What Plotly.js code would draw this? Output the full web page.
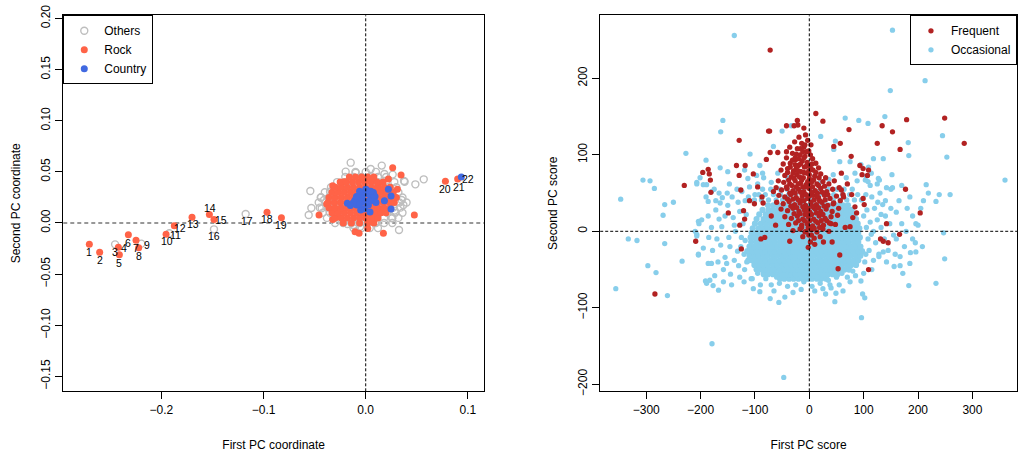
<!DOCTYPE html>
<html>
<head>
<meta charset="utf-8">
<script src="https://cdn.plot.ly/plotly-3.0.1.min.js"></script>
<style>
  body { margin: 0; background: #fff; }
  #chart { width: 1019px; height: 453px; }
</style>
</head>
<body>
<div id="chart"></div>
<script>
// ---------- left panel: genre PC coordinates ----------
var tailLabels = ['1','2','3','4','5','6','7','8','9','10','11','12','13','14','15','16','17','18','19','20','21','22'];
var tailX = [-0.2705,-0.2604,-0.2453,-0.2421,-0.2411,-0.2323,-0.2248,-0.2222,-0.2196,-0.1954,-0.1922,
             -0.1873,-0.170,-0.1530,-0.1485,-0.1485,-0.1175,-0.0966,-0.0825,0.0780,0.0900,0.0936];
var tailY = [-0.0209,-0.0287,-0.0209,-0.0238,-0.0310,-0.0114,-0.0170,-0.0241,-0.0202,-0.0111,-0.0101,
             -0.0026,0.0055,0.0082,0.0033,-0.0062,0.0088,0.0104,0.0052,0.0408,0.0430,0.0450];
var tailGenre = ['Rock','Rock','Others','Rock','Rock','Rock','Rock','Rock','Others','Rock','Others',
                 'Rock','Rock','Rock','Rock','Others','Others','Rock','Rock','Rock','Rock','Country'];

var othersOuter = [[-0.0147,0.059],[0.0049,0.0528],[0.0157,0.0561],[-0.0196,0.0502],[-0.0098,0.0492],
  [-0.0542,0.0313],[-0.0532,0.0147],[-0.0558,0.0078],[-0.0437,0.0251],[0.0375,0.0411],[0.0486,0.0378],
  [0.0568,0.0427],[0.0369,0.0176],[0.0326,-0.0068],[0.0258,0.0046],[0.0284,0.0121],[0.0352,0.0225],
  [-0.0179,-0.001],[0.0108,0.001],[0.0183,0.0479],[0.0264,0.0473],[-0.0349,0.0306],[-0.0408,0.0225],
  [-0.0431,0.0143],[-0.0316,0.0046],[-0.0055,-0.0036],[-0.012,-0.002],[0.0381,0.0404]];
var othersCore = [
  [-0.005, [-0.012,-0.004,0.004,0.012]],
  [0.000, [-0.030,-0.022,-0.014,-0.006,0.002,0.010,0.018,0.026]],
  [0.005, [-0.038,-0.030,-0.022,-0.014,-0.006,0.002,0.010,0.018,0.026,0.032]],
  [0.010, [-0.042,-0.035,-0.027,-0.019,-0.011,-0.003,0.005,0.013,0.021,0.029,0.036]],
  [0.015, [-0.045,-0.037,-0.029,-0.021,-0.013,-0.005,0.003,0.011,0.019,0.027,0.034]],
  [0.020, [-0.046,-0.039,-0.031,-0.023,-0.015,-0.007,0.001,0.009,0.017,0.025,0.033,0.040]],
  [0.025, [-0.044,-0.036,-0.028,-0.020,-0.012,-0.004,0.004,0.012,0.020,0.028,0.036]],
  [0.030, [-0.040,-0.032,-0.024,-0.016,-0.008,0.000,0.008,0.016,0.024,0.032]],
  [0.035, [-0.034,-0.026,-0.018,-0.010,-0.002,0.006,0.014,0.022,0.030]],
  [0.040, [-0.028,-0.020,-0.012,-0.004,0.004,0.012,0.020,0.028]],
  [0.045, [-0.020,-0.012,-0.004,0.004,0.012,0.020]],
  [0.050, [-0.010,0.000,0.010]]
];
var rockOuter = [[0.0264,0.0541],[0.0346,0.0470],[-0.0212,0.0404],[-0.0323,0.0365],[-0.0457,0.0078],
  [-0.0382,0.0186],[-0.0323,0.0033],[-0.0104,-0.0085],[-0.0065,-0.0101],[0.0020,-0.0055],[0.0173,-0.0101],
  [0.0476,0.0078],[0.031,0.0329],[0.0222,0.043],[0.0124,0.0388]];
var rockCore = [
  [0.000, [-0.022,-0.014,-0.006,0.002,0.008]],
  [0.005, [-0.030,-0.024,-0.018,-0.012,-0.006,0.000,0.006,0.012]],
  [0.010, [-0.033,-0.027,-0.021,-0.015,-0.009,-0.003,0.003,0.009,0.015,0.020]],
  [0.015, [-0.036,-0.030,-0.024,-0.018,-0.012,-0.006,0.000,0.006,0.012,0.018,0.024]],
  [0.020, [-0.037,-0.031,-0.025,-0.019,-0.013,-0.007,-0.001,0.005,0.011,0.017,0.023,0.028]],
  [0.025, [-0.036,-0.030,-0.024,-0.018,-0.012,-0.006,0.000,0.006,0.012,0.018,0.024,0.030]],
  [0.030, [-0.033,-0.027,-0.021,-0.015,-0.009,-0.003,0.003,0.009,0.015,0.021,0.027]],
  [0.035, [-0.030,-0.024,-0.018,-0.012,-0.006,0.000,0.006,0.012,0.018,0.024]],
  [0.040, [-0.025,-0.019,-0.013,-0.007,-0.001,0.005,0.011,0.017]],
  [0.045, [-0.016,-0.010,-0.004,0.002,0.008]]
];
var countryPts = [[0.0222,0.0329],[0.0248,0.0264],[0.0183,0.0218],[0.0248,0.0137],[0.0042,0.0108],
  [-0.0049,0.0127],[-0.0179,0.0192],[-0.0114,0.0192],[-0.0072,0.0258],[-0.0023,0.029],[0.001,0.0323],
  [0.0075,0.0297],[0.0059,0.0258],[-0.0055,0.0225],[-0.0007,0.0209],[-0.0088,0.0176],[0.0026,0.0176],
  [-0.0039,0.0241],[-0.0104,0.0225],[0.0091,0.0258],[0.0042,0.0225],[-0.012,0.020],[-0.006,0.018],
  [0.000,0.020],[0.006,0.022],[-0.009,0.026],[-0.003,0.027],[0.003,0.028],[0.008,0.027],[-0.006,0.031],
  [0.000,0.033],[0.005,0.031],[-0.015,0.017],[0.010,0.020],[-0.001,0.014]];

// ---------- right panel: listener PC scores ----------
var occOuter = [[-138,256],[153,263],[213,197],[149,184],[66,148],[91,145],[108,141],[139,150],[-159,145],
  [-163,130],[-227,102],[-109,101],[-190,93],[-306,67],[-293,66],[-285,56],[-347,42],[-266,35],[-250,38],
  [-269,21],[-333,-10],[-317,-12],[-266,-16],[-297,-45],[-282,-54],[-356,-75],[-261,-84],[-234,-39],
  [-179,-147],[-47,-191],[-56,-93],[47,-92],[96,-113],[102,-87],[98,-82],[183,-71],[233,-68],[249,-36],
  [247,-2],[360,67],[253,97],[245,125],[259,48],[239,48],[233,39],[215,61],[219,50],[183,99],[182,116],
  [152,74],[142,57],[129,67],[153,57],[196,10],[196,-27],[190,-10],[185,-42],[167,-45],[167,-33],
  [156,-46],[128,-33],[136,-27],[52,-40],[49,-81],[38,-70],[-103,-75],[-91,-79],[-107,-62],[-167,-77],
  [-177,-71],[-191,-65],[-189,-68],[-174,-58],[-186,-42],[-204,-30],[-207,-6],[-210,0],[-198,15],
  [-203,10],[-207,64],[-189,61],[-186,39],[-164,37],[-166,50],[-164,83],[-150,78],[-119,80],[-113,69],
  [-97,73],[-91,86],[-86,76],[-66,111],[-50,131],[-33,138],[21,124],[48,118],[45,107],[56,91],[44,74],
  [75,91],[95,87],[109,84],[114,76],[103,67],[84,76],[118,95],[136,95],[127,69]];
var occRing = [[-120,-30],[-125,-8],[-122,10],[-128,26],[-118,40],[-130,-45],[-136,0],[-140,18],
  [-146,-20],[-150,34],[-155,-34],[-161,6],[-142,45],[-133,55],[-151,50],[-166,16],[-170,-10],[-158,-50],
  [-145,-56],[-128,-60],[-138,-38],[-119,-50],[-124,52],[-112,45],[-110,58],[-100,48],[-95,62],[-148,-8],
  [-172,28],[-160,44],[-178,-25],[-120,-66],[-105,-62],[-116,22],[-126,-20],[-138,8],[-152,-42],
  [-168,-40],[-180,5],[-186,20],[-195,-22],[-175,55],[-190,45],[-207,62],[-201,70],[-195,61],[-180,52],
  [-204,13],[-207,-4],[-204,-31],[-180,-42],[-183,-64],[-158,-66],[-143,-70],[-132,-26],[-115,-40],
  [-118,-12],[-131,38],[-147,62],[-163,-18],[-185,-8],[-172,40],[-155,20],
  [-84,70],[-58,76],[20,64],[36,68],[68,70],[105,72],[-15,70],[10,72],[-70,64],[88,66],[-40,70],
  [100,20],[105,5],[108,-10],[110,-25],[102,-40],[115,45],[120,30],[125,15],[118,0],[122,-15],
  [128,-30],[115,-50],[130,50],[135,35],[140,20],[132,5],[138,-10],[145,-25],[140,40],[150,55],
  [148,10],[155,-5],[150,30],[160,25],[165,40],[170,10],[175,-20],[112,60],[125,62],[100,-55],
  [95,-65],[108,65],[160,-10],[180,30],[185,45],[178,0],[190,20],[195,-15],[200,8],[170,60],
  [186,-28],[205,30],[208,-20],[172,-55],[210,40],[104,-30],[112,12],[118,-38],[126,38],[106,28],
  [114,-4],[132,22],[142,-40],[158,-30],[104,48],
  [-80,-62],[-70,-70],[-55,-68],[-40,-72],[-25,-70],[-10,-66],[5,-72],[20,-68],[35,-64],[50,-60],
  [60,-55],[70,-60],[80,-52],[-95,-55],[-65,-78],[-30,-80],[-15,-76],[10,-78],[25,-75],[40,-74],
  [55,-70],[-45,-86],[-90,-70],[75,-66],[85,-58],[-72,-88],[0,-62],[-60,-60],[15,-60],[30,-82],[62,-78]];
var occMid = [
  [41, [-101,-88,-75,-61,-49,-35,-22,-9,4,18,30,44,57,69,83,96]],
  [48, [-93,-81,-66,-53,-38,-25,-10,3,19,32,45,61,74,89]],
  [55, [-86,-71,-54,-41,-26,-11,6,20,34,51,64,79]]
];
var occCore = [
  [-62, [-54,-46,-37,-29,-20,-12,-3,5,14,22,31]],
  [-56, [-84,-76,-67,-59,-50,-42,-33,-25,-16,-8,1,9,18,26,35,43,52]],
  [-50, [-97,-88,-80,-71,-63,-54,-46,-37,-29,-20,-12,-3,5,14,22,31,39,48,56,65,73]],
  [-44, [-101,-93,-84,-76,-67,-59,-50,-42,-33,-25,-16,-8,1,9,18,26,35,43,52,60,69,77,86]],
  [-38, [-112,-105,-97,-88,-80,-71,-63,-54,-46,-37,-29,-20,-12,-3,5,14,22,31,39,48,56,65,73,82,90]],
  [-32, [-110,-101,-93,-84,-76,-67,-59,-50,-42,-33,-25,-16,-8,1,9,18,26,35,43,52,60,69,77,86,94]],
  [-26, [-114,-105,-97,-88,-80,-71,-63,-54,-46,-37,-29,-20,-12,-3,5,14,22,31,39,48,56,65,73,82,90,97]],
  [-20, [-110,-101,-93,-84,-76,-67,-59,-50,-42,-33,-25,-16,-8,1,9,18,26,35,43,52,60,69,77,86,94]],
  [-14, [-107,-97,-88,-80,-71,-63,-54,-46,-37,-29,-20,-12,-3,5,14,22,31,39,48,56,65,73,82,90]],
  [-8, [-108,-101,-93,-84,-76,-67,-59,-50,-42,-33,-25,-16,-8,1,9,18,26,35,43,52,60,69,77,86,93]],
  [-2, [-106,-97,-88,-80,-71,-63,-54,-46,-37,-29,-20,-12,-3,5,14,22,31,39,48,56,65,73,82,90]],
  [4, [-104,-93,-84,-76,-67,-59,-50,-42,-33,-25,-16,-8,1,9,18,26,35,43,52,60,69,77,86,92]],
  [10, [-100,-89,-80,-71,-63,-54,-46,-37,-29,-20,-12,-3,5,14,22,31,39,48,56,65,73,82,89]],
  [16, [-97,-84,-76,-67,-59,-50,-42,-33,-25,-16,-8,1,9,18,26,35,43,52,60,69,77,86]],
  [22, [-92,-80,-71,-63,-54,-46,-37,-29,-20,-12,-3,5,14,22,31,39,48,56,65,73,82]],
  [28, [-86,-75,-67,-58,-50,-42,-33,-25,-16,-8,1,9,18,26,35,43,52,60,69,78]],
  [34, [-76,-66,-58,-49,-41,-32,-24,-15,-7,2,10,19,27,36,44,53,62,71]]
];
var freqOuter = [[-72,237],[12,154],[25,144],[-22,145],[-21,139],[-42,138],[-28,138],[-10,135],[73,133],
  [179,146],[249,148],[285,115],[134,138],[153,130],[125,115],[57,115],[45,111],[167,107],[77,98],[93,86],
  [99,82],[109,80],[97,74],[107,73],[-129,119],[-73,131],[-75,131],[-72,103],[-58,103],[-42,104],[-134,86],
  [-118,86],[-129,73],[-186,81],[-196,77],[-184,75],[-182,67],[-181,51],[-230,60],[-126,54],[-103,75],
  [-79,94],[-149,24],[-128,8],[-119,16],[-121,27],[-101,36],[-85,37],[-87,45],[-209,-13],[-125,-23],
  [-284,-82],[-89,-10],[-82,-8],[-36,-13],[-2,-21],[10,-17],[26,-14],[42,-14],[56,-31],[53,-49],
  [109,-50],[131,-10],[136,-13],[145,-15],[166,-4],[142,10],[204,24],[177,55],[99,43],[101,35],[84,32],
  [87,24],[75,6],[66,5],[59,54],[59,76],[63,45],[44,36],[40,10],[4,-5],[-70,20],[-62,8],[-95,58],
  [-110,40],[70,62],[78,48],[-66,52],[80,18]];
var freqCore = [[-19,123],[-7,126],[-27,117],[-14,115],[-3,119],[3,113],[-36,110],[-22,108],[-10,110],
  [-1,105],[-31,102],[-17,100],[-8,98],[2,100],[-42,96],[-25,94],[-13,92],[-4,90],[6,95],[-48,88],
  [-35,89],[-20,86],[-9,84],[1,86],[12,89],[-52,80],[-40,82],[-29,79],[-15,78],[-4,76],[7,80],[17,83],
  [-45,73],[-33,71],[-23,74],[-11,70],[0,69],[10,72],[21,75],[30,70],[-57,66],[-47,64],[-36,62],
  [-26,66],[-16,63],[-6,61],[4,64],[14,62],[25,65],[36,62],[46,66],[-24,82],[-31,93],[-18,71],[-1,79],
  [-61,57],[-51,54],[-41,56],[-30,53],[-20,55],[-10,52],[0,56],[11,53],[21,56],[32,52],[43,55],[55,57],
  [-56,47],[-45,45],[-34,48],[-24,44],[-13,46],[-3,43],[7,47],[17,44],[28,47],[38,43],[50,46],[62,48],
  [-60,38],[-48,36],[-37,39],[-27,35],[-17,37],[-7,34],[3,38],[13,35],[23,38],[34,34],[45,37],[57,40],
  [-52,29],[-40,27],[-30,30],[-19,26],[-9,28],[1,25],[11,29],[21,26],[31,29],[42,26],[54,30],
  [-45,19],[-33,17],[-22,20],[-12,16],[-2,19],[8,16],[18,20],[29,17],[40,19],[52,21],
  [-38,9],[-25,11],[-14,8],[-4,10],[6,7],[16,11],[26,8],[37,11],[48,9],
  [-30,1],[-17,3],[-6,0],[4,2],[14,-1],[25,3],[36,0],[-12,-7],[-1,-5],[9,-9],[20,-7],[2,-14],
  [-5,58],[15,50],[-15,40],[8,31],[-8,22],[22,14],[-20,62],[5,88],[-12,104],
  [-35,84],[-26,87],[-16,88],[-6,85],[3,82],[-40,77],[-30,76],[-20,79],[-10,77],[0,74],[12,77],[-38,67],
  [-28,69],[-14,67],[-3,65],[8,67],[18,70],[-42,58],[-32,60],[-24,58],[-12,58],[-2,62],[6,58],[17,60],
  [28,59],[-36,50],[-26,50],[-16,51],[-6,48],[4,51],[14,46],[24,51],[34,48],[-40,42],[-30,42],[-20,41],
  [-10,40],[0,46],[9,41],[19,40],[29,41],[-34,33],[-23,31],[-12,32],[-2,30],[6,33],[17,31],[27,33],
  [-28,23],[-17,23],[-5,24],[4,22],[13,24],[25,22],[-20,14],[-9,14],[1,14],[12,13],[32,14],[-14,5],
  [-2,5],[9,4],[19,5],[-8,-1],[-26,96],[-20,95],[-10,96],[-5,104],[-16,108],[-8,113],[-24,101]];

// label nudges in px for the numbered points (style only)
var labelShift = [[0,-8],[0,-8],[0,-8],[6,-1],[0,-8],[0,-8],[0,-8],[0,-8],[6,-1],[1,-7],[6,-2],
                  [6,-2],[1,-7],[1,7],[7,0],[0,-7],[1,-7],[0,-7],[0,-7],[0,-8],[1,-8],[7,-2]];

function collect(pairs, rows, genre) {
  var out = {x: [], y: []};
  pairs.forEach(function (p) { out.x.push(p[0]); out.y.push(p[1]); });
  (rows || []).forEach(function (r) {
    r[1].forEach(function (v) { out.x.push(v); out.y.push(r[0]); });
  });
  if (genre) {
    for (var i = 0; i < tailX.length; i++) {
      if (tailGenre[i] == genre) { out.x.push(tailX[i]); out.y.push(tailY[i]); }
    }
  }
  return out;
}

var others = collect(othersOuter, othersCore, 'Others');
var rock = collect(rockOuter, rockCore, 'Rock');
var country = collect(countryPts, null, 'Country');
var occA = collect(occOuter.concat(occRing), occMid);
var occB = collect([], occCore);
var freq = collect(freqOuter.concat(freqCore), null);

var data = [
  {x: others.x, y: others.y, name: 'Others', type: 'scatter', mode: 'markers', xaxis: 'x', yaxis: 'y',
   marker: {symbol: 'circle-open', size: 7, color: '#BEBEBE', line: {width: 1.4, color: '#BEBEBE'}}},
  {x: rock.x, y: rock.y, name: 'Rock', type: 'scatter', mode: 'markers', xaxis: 'x', yaxis: 'y',
   marker: {size: 7, color: '#FF6347'}},
  {x: country.x, y: country.y, name: 'Country', type: 'scatter', mode: 'markers', xaxis: 'x', yaxis: 'y',
   marker: {size: 7, color: '#4169E1'}},
  {x: occB.x, y: occB.y, name: 'Occasional', type: 'scatter', mode: 'markers', xaxis: 'x2', yaxis: 'y2',
   legend: 'legend2', legendgroup: 'occ', showlegend: false, marker: {size: 6.2, color: '#87CEEB'}},
  {x: occA.x, y: occA.y, name: 'Occasional', type: 'scatter', mode: 'markers', xaxis: 'x2', yaxis: 'y2',
   legend: 'legend2', legendgroup: 'occ', legendrank: 2, marker: {size: 5.3, color: '#87CEEB'}},
  {x: freq.x, y: freq.y, name: 'Frequent', type: 'scatter', mode: 'markers', xaxis: 'x2', yaxis: 'y2',
   legend: 'legend2', legendrank: 1, marker: {size: 5.3, color: '#B22222'}}
];

var annotations = [];
for (var i = 0; i < tailLabels.length; i++) {
  annotations.push({x: tailX[i], y: tailY[i], xref: 'x', yref: 'y', text: tailLabels[i], showarrow: false,
    xshift: labelShift[i][0], yshift: labelShift[i][1], font: {size: 10.5, color: '#000'}});
}

function axisStyle(extra) {
  var a = {showgrid: false, zeroline: false, showline: true, mirror: true, linecolor: '#000', linewidth: 1,
           ticks: 'outside', ticklen: 7, tickcolor: '#000', tickfont: {size: 12}, automargin: false};
  for (var k in extra) a[k] = extra[k];
  return a;
}
function axisTitle(text, standoff) {
  return {text: text, standoff: standoff, font: {size: 12, color: '#000'}};
}

var layout = {
  width: 1019, height: 453,
  margin: {l: 0, r: 0, t: 0, b: 0},
  paper_bgcolor: '#fff', plot_bgcolor: '#fff',
  font: {family: 'Liberation Sans, Arial, sans-serif', size: 12, color: '#000'},
  xaxis: axisStyle({domain: [0.0621, 0.475], range: [-0.296, 0.1158], tickvals: [-0.2, -0.1, 0, 0.1],
    tickformat: '.1f', anchor: 'y', title: axisTitle('First PC coordinate', 24)}),
  yaxis: axisStyle({domain: [0.1362, 0.9662], range: [-0.1646, 0.2031], tick0: 0, dtick: 0.05,
    tickformat: '.2f', tickangle: -90, anchor: 'x', title: axisTitle('Second PC coordinate', 16)}),
  xaxis2: axisStyle({domain: [0.589, 0.998], range: [-384.7, 382], tick0: 0, dtick: 100, anchor: 'y2',
    title: axisTitle('First PC score', 24)}),
  yaxis2: axisStyle({domain: [0.1362, 0.9662], range: [-209.2, 282.4], tick0: 0, dtick: 100,
    tickangle: -90, anchor: 'x2', title: axisTitle('Second PC score', 16)}),
  legend: {x: 0.0621, y: 0.9662, xanchor: 'left', yanchor: 'top', bordercolor: '#000', borderwidth: 1,
    bgcolor: '#fff', font: {size: 12}, itemsizing: 'trace', tracegroupgap: 0},
  legend2: {x: 0.998, y: 0.9662, xanchor: 'right', yanchor: 'top', bordercolor: '#000', borderwidth: 1,
    bgcolor: '#fff', font: {size: 12}, itemsizing: 'trace', tracegroupgap: 0},
  showlegend: true,
  annotations: annotations,
  shapes: [
    {type: 'line', xref: 'x', yref: 'y domain', x0: 0, x1: 0, y0: 0, y1: 1, layer: 'above',
     line: {color: '#000', width: 1, dash: '3px,2px'}},
    {type: 'line', xref: 'x domain', yref: 'y', x0: 0, x1: 1, y0: 0, y1: 0, layer: 'below',
     line: {color: '#777', width: 1.5, dash: '4px,3px'}},
    {type: 'line', xref: 'x2', yref: 'y2 domain', x0: 0, x1: 0, y0: 0, y1: 1, layer: 'above',
     line: {color: '#000', width: 1, dash: '3px,2px'}},
    {type: 'line', xref: 'x2 domain', yref: 'y2', x0: 0, x1: 1, y0: 0, y1: 0, layer: 'above',
     line: {color: '#000', width: 1, dash: '3px,2px'}}
  ]
};

Plotly.newPlot('chart', data, layout, {displayModeBar: false, staticPlot: true});
</script>
</body>
</html>
